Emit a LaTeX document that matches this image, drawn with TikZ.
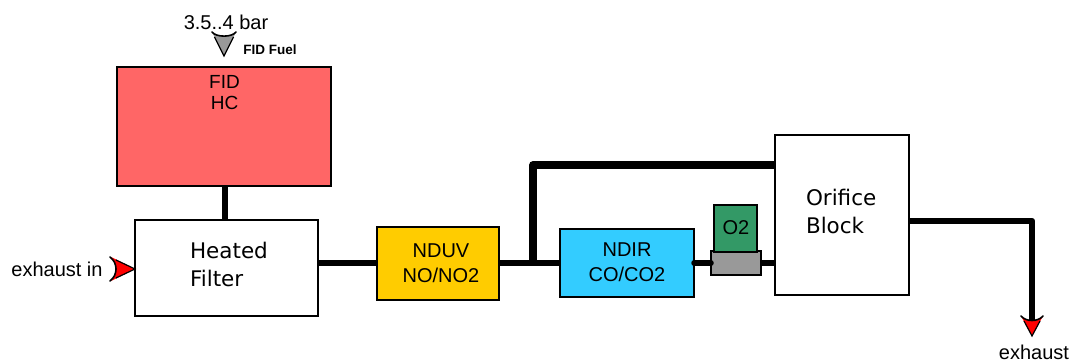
\documentclass[tikz,border=0pt]{standalone}
\usepackage{fontspec}
\setmainfont{Liberation Sans}
\newfontfamily\djv{DejaVu Sans}
\definecolor{fidred}{HTML}{FF6666}
\definecolor{nduvy}{HTML}{FFCC00}
\definecolor{ndirb}{HTML}{33CCFF}
\definecolor{otwo}{HTML}{339966}
\definecolor{grayb}{HTML}{999999}
\tikzset{
 blockbox/.style={draw=black,line width=1.8pt,anchor=north west,inner sep=0pt,outer sep=0pt},
 pipe/.style={draw=black,line width=6.5pt},
 thinpipe/.style={draw=black,line width=5.5pt},
 lbl/.style={inner sep=0pt,outer sep=0pt,font=\fontsize{20}{24}\selectfont},
 dlbl/.style={inner sep=0pt,outer sep=0pt,align=left,anchor=west,font=\djv\fontsize{21.5}{28}\selectfont},
 vlbl/.style={inner sep=0pt,outer sep=0pt,align=center,font=\fontsize{20}{24.5}\selectfont},
 tipwing/.style={draw=black,line width=1.6pt,line cap=round,line join=miter},
}
\begin{document}
\begin{tikzpicture}[x=1pt,y=-1pt]
\useasboundingbox (0,0) rectangle (1078,363);
\node[blockbox,fill=fidred,minimum width=214pt,minimum height=119pt] (fid) at (117,67) {};
\node[blockbox,fill=white,minimum width=183pt,minimum height=96pt] (filter) at (135,220) {};
\node[blockbox,fill=nduvy,minimum width=122pt,minimum height=73pt] (nduv) at (377,227) {};
\node[blockbox,fill=ndirb,minimum width=134pt,minimum height=68pt] (ndir) at (560,229) {};
\node[blockbox,fill=white,minimum width=134pt,minimum height=160pt] (orifice) at (775,135) {};
\node[blockbox,fill=grayb,minimum width=50pt,minimum height=24pt] (valve) at (711,251) {};
\node[blockbox,fill=otwo,minimum width=43pt,minimum height=47pt] (otwobox) at (714,205) {};

\node[lbl,font=\fontsize{19}{22}\selectfont] (fidtxt) at (224.5,82) {FID};
\node[lbl,font=\fontsize{19}{22}\selectfont] (hctxt) at (224.5,103) {HC};
\node[lbl] (bar) at (226,22) {3.5..4 bar};
\node[inner sep=0pt,font=\bfseries\fontsize{13.5}{16}\selectfont] (fuel) at (270,49.5) {FID Fuel};
\node[dlbl] (filtertxt) at (190,264) {Heated\\Filter};
\node[vlbl] (nduvtxt) at (441,263) {NDUV\\NO/NO2};
\node[vlbl] (ndirtxt) at (627,262) {NDIR\\CO/CO2};
\node[lbl] (otxt) at (736,228) {O2};
\node[dlbl] (oritxt) at (806,211) {Orifice\\Block};
\node[lbl] (intxt) at (57,269) {exhaust in};
\node[lbl] (outtxt) at (1034,352) {exhaust};

\coordinate (branch) at (533,263);
\coordinate (elbow1) at (533,165);
\coordinate (elbow2) at (1032,221);
\coordinate (outend) at (1032,322);

\draw[pipe] (fid.south -| 225,0) -- (filter.north -| 225,0);
\draw[pipe] (filter.east |- 0,263) -- (nduv.west |- 0,263);
\draw[pipe] (nduv.east |- 0,263) -- (ndir.west |- 0,263);
\draw[pipe,line width=7.5pt,line join=round] (branch) -- (elbow1) -- (orifice.west |- elbow1);
\draw[thinpipe,line cap=round] (ndir.east |- 0,263) -- (valve.west |- 0,263);
\draw[thinpipe] (valve.east |- 0,263) -- (orifice.west |- 0,263);
\draw[pipe,line join=round] (orifice.east |- elbow2) -- (elbow2) -- (outend);

% FID fuel arrowhead
\fill[fill=grayb] (212,32) .. controls (217,37) and (231,37) .. (236,32) -- (224,56) -- cycle;
\draw[draw=black,line width=1.3pt] (214.5,37) -- (224,56) -- (233.5,37);
\draw[tipwing] (212,32) .. controls (216,37.5) and (232,37.5) .. (236,32);
% inlet arrowhead
\fill[fill=red] (111,257) .. controls (118,264) and (118,274) .. (111,281) -- (135,269) -- cycle;
\draw[draw=black,line width=1.2pt] (116,260) -- (135,269) -- (116,278);
\draw[tipwing] (110,257) .. controls (118,263) and (118,275) .. (110,281);
% outlet arrowhead
\fill[fill=red] (1021,316) .. controls (1026,322) and (1038,322) .. (1043,316) -- (1032,336) -- cycle;
\draw[draw=black,line width=1.2pt] (1024,321) -- (1032,336) -- (1040,321);
\draw[tipwing] (1021,316) .. controls (1026,322) and (1038,322) .. (1043,316);
\end{tikzpicture}
\end{document}
